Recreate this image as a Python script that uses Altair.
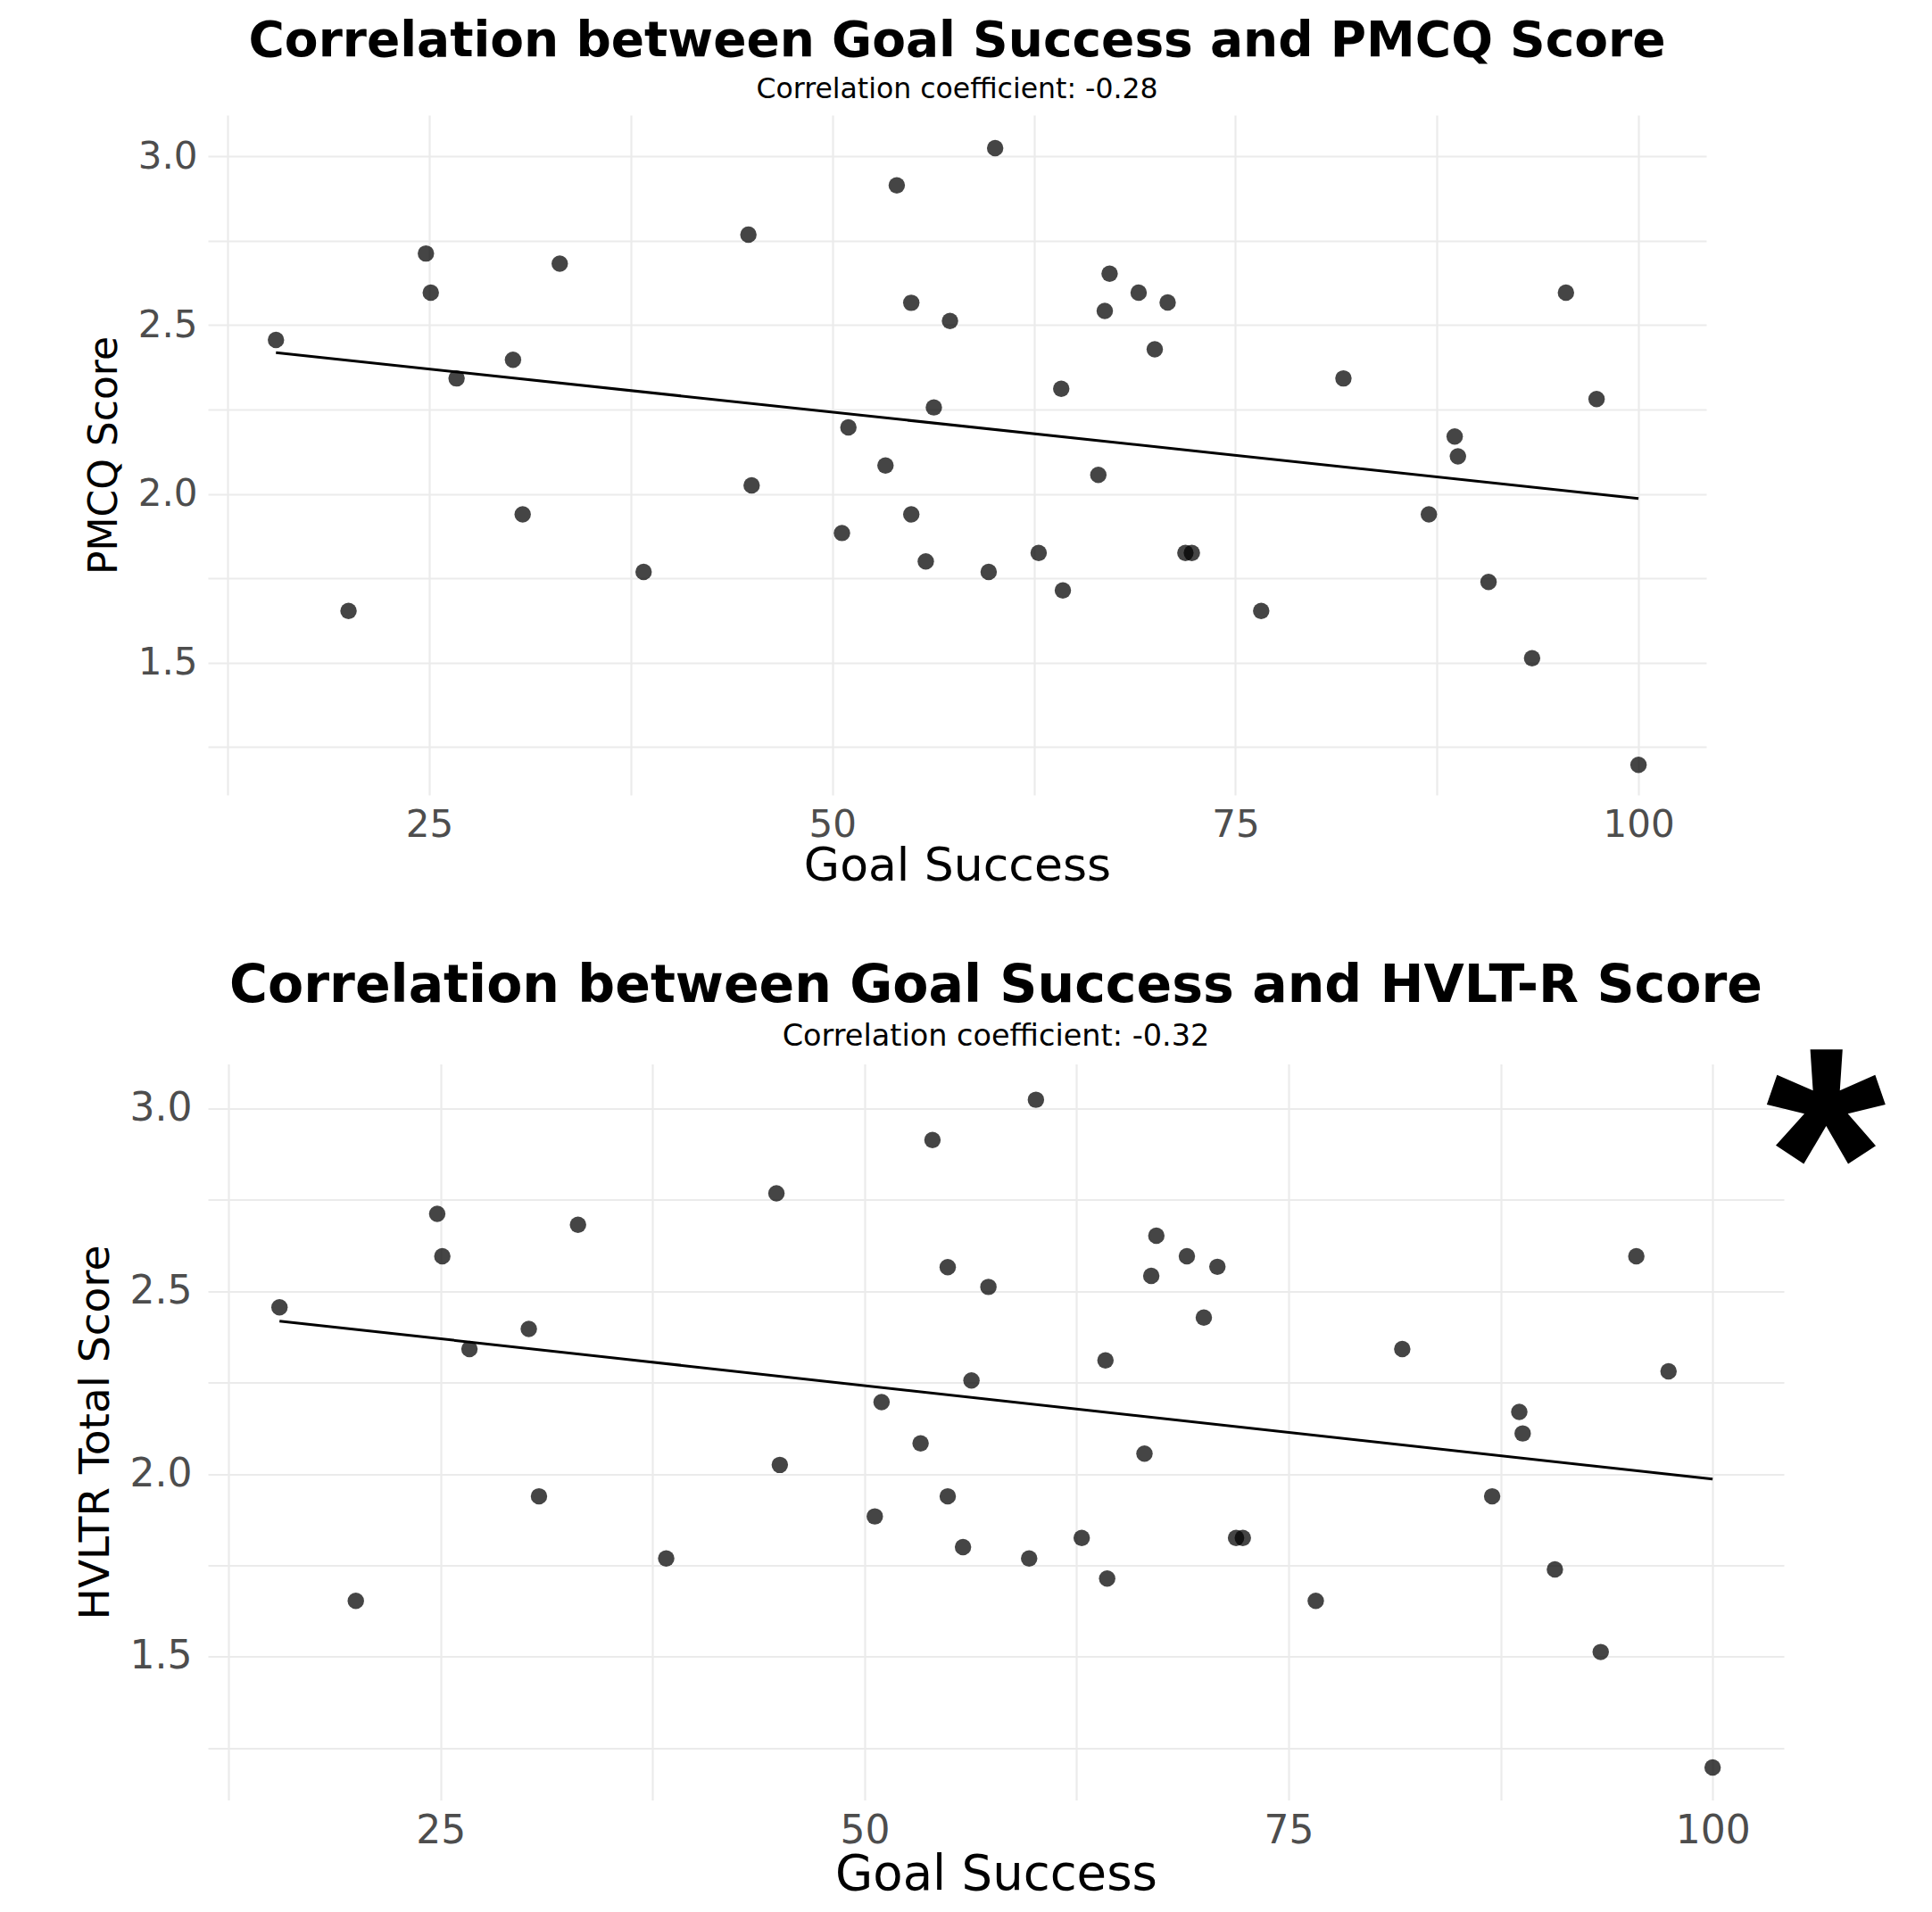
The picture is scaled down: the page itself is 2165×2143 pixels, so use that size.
import altair as alt
import pandas as pd

# Goal Success (x) and score (y) (same data in both panels)
goal_success = [15.5, 20.0, 24.8, 25.1, 26.7, 30.2, 30.8, 33.1, 38.3, 44.8, 45.0,
                50.6, 51.0, 53.3, 54.0, 54.9, 54.9, 55.8, 56.3, 57.3, 60.1, 59.7,
                62.8, 64.2, 64.3, 66.5, 66.9, 67.2, 69.0, 70.0, 70.8, 71.9, 72.3,
                76.6, 81.7, 87.0, 88.6, 88.8, 90.7, 93.4, 95.5, 97.4, 100.0]
score = [2.456, 1.653, 2.712, 2.596, 2.342, 2.397, 1.939, 2.682, 1.769, 2.768, 2.025,
         1.884, 2.197, 2.084, 2.914, 2.566, 1.939, 1.800, 2.256, 2.512, 3.024, 1.769,
         1.825, 2.311, 1.714, 2.056, 2.542, 2.652, 2.596, 2.428, 2.567, 1.825, 1.825,
         1.653, 2.342, 1.939, 2.170, 2.111, 1.739, 1.513, 2.596, 2.281, 1.197]

x_ticks = [12.5, 25, 37.5, 50, 62.5, 75, 87.5, 100]
y_ticks = [1.25, 1.5, 1.75, 2.0, 2.25, 2.5, 2.75, 3.0]
x_domain = [11.28, 104.2]
y_domain = [1.108, 3.122]

titles = ["Correlation between Goal Success and PMCQ Score",
          "Correlation between Goal Success and HVLT-R Score"]
subtitles = ["Correlation coefficient: -0.28", "Correlation coefficient: -0.32"]
y_titles = ["PMCQ Score", "HVLTR Total Score"]
x_title = "Goal Success"
marker = ["*"]

FONT = "DejaVu Sans"

df = pd.DataFrame({"goal": goal_success, "score": score})


def panel(i, w, h, tfs, sfs, xfs, yfs, lfs, xlp, xtp, ylp, ytp, off, spad):
    xenc = alt.X("goal:Q",
                 scale=alt.Scale(domain=x_domain, nice=False, zero=False),
                 axis=alt.Axis(values=x_ticks, title=x_title,
                               labelExpr="datum.value % 25 == 0 ? datum.label : ''",
                               grid=True, gridColor="#ebebeb", gridWidth=2.2,
                               domain=False, ticks=False, tickSize=0,
                               labelFont=FONT, labelFontSize=lfs, labelColor="#4d4d4d",
                               labelPadding=xlp, titleFont=FONT, titleFontSize=xfs,
                               titleFontWeight="normal", titleColor="black",
                               titlePadding=xtp))
    yenc = alt.Y("score:Q",
                 scale=alt.Scale(domain=y_domain, nice=False, zero=False),
                 axis=alt.Axis(values=y_ticks, title=y_titles[i], format=".1f",
                               labelExpr="datum.value % 0.5 == 0 ? datum.label : ''",
                               grid=True, gridColor="#ebebeb", gridWidth=2.2,
                               domain=False, ticks=False, tickSize=0,
                               labelFont=FONT, labelFontSize=lfs, labelColor="#4d4d4d",
                               labelPadding=ylp, titleFont=FONT, titleFontSize=yfs,
                               titleFontWeight="normal", titleColor="black",
                               titlePadding=ytp))
    base = alt.Chart(df)
    pts = base.mark_circle(size=340, color="black", opacity=0.73).encode(x=xenc, y=yenc)
    line = base.transform_regression("goal", "score").mark_line(
        color="black", strokeWidth=3).encode(x=xenc, y=yenc)
    layers = [pts, line]
    if i == 1:
        star = alt.Chart(pd.DataFrame({"t": marker})).mark_text(
            font="Liberation Sans", fontWeight="bold", fontSize=345,
            align="center", baseline="alphabetic", color="black").encode(
            x=alt.value(1813), y=alt.value(221), text="t:N")
        layers.append(star)
    return alt.layer(*layers).properties(
        width=w, height=h,
        title=alt.TitleParams(text=titles[i], subtitle=subtitles[i], font=FONT,
                              fontSize=tfs, fontWeight="bold", color="black",
                              subtitleFont=FONT, subtitleFontSize=sfs,
                              subtitleColor="black", anchor="middle", frame="group",
                              offset=off, subtitlePadding=spad))


top = panel(0, 1679, 762, 55, 31.5, 52, 44, 42, 13.5, 0, 12, 15, 12, 10)
bottom = panel(1, 1766, 825, 58.5, 33.5, 54.5, 47, 44, 12.5, 0, 18, 13.5, -42.4, 11)

chart = alt.vconcat(top, bottom, spacing=78.5).properties(
    padding={"top": 10, "left": 75, "right": 5, "bottom": 2}
).configure_view(stroke=None)

chart.save("out.html", embed_options={"renderer": "svg", "actions": False})
